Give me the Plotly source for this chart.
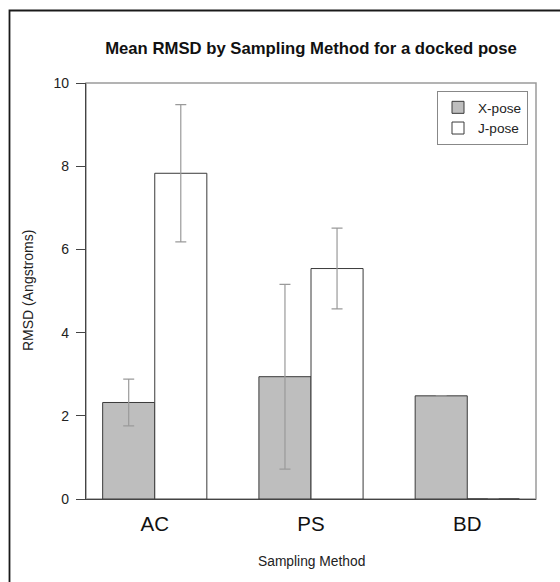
import plotly.graph_objects as go

methods = ["AC", "PS", "BD"]
x_pose = [2.32, 2.94, 2.48]
x_pose_err = [0.56, 2.22, None]
j_pose = [7.83, 5.54, 0.0]
j_pose_err = [1.65, 0.97, None]
y_ticks = [0, 2, 4, 6, 8, 10]

FONT = "Liberation Sans, Arial, sans-serif"
W, H = 560, 582
# target pixel positions of the plot box
PL, PR, PT, PB = 86, 536, 83, 499
ML, MT = PL, PT
MR = W - PR
MB = H - PB
PW, PH = PR - PL, PB - PT

def px_x(p):
    return (p - PL) / PW

def px_y(p):
    return (PB - p) / PH

fig = go.Figure()
fig.add_trace(go.Bar(
    name="X-pose", x=methods, y=x_pose,
    marker=dict(color="#bebebe", line=dict(color="#3a3a3a", width=1)),
    error_y=dict(type="data", array=x_pose_err, color="#9a9a9a", thickness=1.2, width=5.5),
))
fig.add_trace(go.Bar(
    name="J-pose", x=methods, y=j_pose,
    marker=dict(color="#ffffff", line=dict(color="#3a3a3a", width=1)),
    error_y=dict(type="data", array=j_pose_err, color="#9a9a9a", thickness=1.2, width=5.5),
))

fig.update_layout(
    width=W, height=H,
    margin=dict(l=ML, r=MR, t=MT, b=MB),
    paper_bgcolor="white", plot_bgcolor="white",
    barmode="group", bargap=1/3, bargroupgap=0,
    font=dict(family=FONT, color="#222"),
    title=dict(text="<b>Mean RMSD by Sampling Method for a docked pose</b>",
               x=0.5, xref="paper", y=1 - 48 / H, yref="container",
               xanchor="center", yanchor="middle",
               font=dict(size=16.7, family=FONT, color="#111")),
    showlegend=True,
    legend=dict(x=px_x(528), y=px_y(91), xanchor="right", yanchor="top",
                bordercolor="#888", borderwidth=1, bgcolor="white",
                font=dict(size=13.6, family=FONT, color="#222"),
                traceorder="normal", itemwidth=30, tracegroupgap=0),
    xaxis=dict(range=[-0.44, 2.44], showgrid=False, zeroline=False,
               showline=True, linecolor="#444", linewidth=1,
               ticks="outside", ticklen=6, tickcolor="rgba(0,0,0,0)",
               tickfont=dict(size=20.5, family=FONT, color="#111")),
    yaxis=dict(range=[0, 10], tickvals=y_ticks, showgrid=False, zeroline=False,
               showline=True, linecolor="#444", linewidth=1.3,
               ticks="outside", ticklen=9, tickcolor="#444", tickwidth=1.2,
               ticklabelstandoff=4,
               tickfont=dict(size=14, family=FONT, color="#222")),
)

# plot box (box())
fig.add_shape(type="rect", xref="paper", yref="paper", x0=0, x1=1, y0=0, y1=1,
              line=dict(color="#9a9a9a", width=1.5), layer="below")
# outer figure frame (open to the right and bottom)
fig.add_shape(type="rect", xref="paper", yref="paper",
              x0=px_x(9.5), x1=px_x(620), y0=px_y(640), y1=px_y(10.5),
              line=dict(color="#1a1a1a", width=1.8))

fig.add_annotation(text="RMSD (Angstroms)", xref="paper", yref="paper",
                   x=px_x(28), y=0.5, textangle=-90, showarrow=False,
                   xanchor="center", yanchor="middle",
                   font=dict(size=14, family=FONT, color="#222"))
fig.add_annotation(text="Sampling Method", xref="paper", yref="paper",
                   x=0.5, y=px_y(561), showarrow=False,
                   xanchor="center", yanchor="middle",
                   font=dict(size=13.8, family=FONT, color="#222"))

fig.write_html("out.html",
               config={"displayModeBar": False},
               post_script="document.body.style.margin='0';document.body.style.overflow='hidden';")
